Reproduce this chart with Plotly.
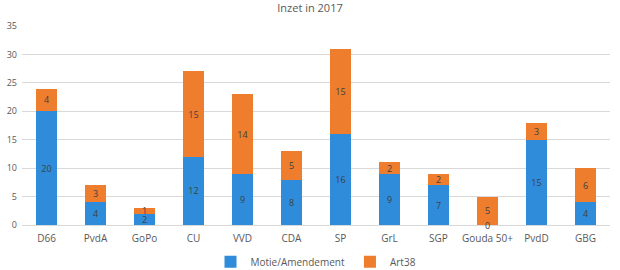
import plotly.graph_objects as go

categories = ["D66", "PvdA", "GoPo", "CU", "VVD", "CDA", "SP", "GrL", "SGP", "Gouda 50+", "PvdD", "GBG"]
motie = [20, 4, 2, 12, 9, 8, 16, 9, 7, 0, 15, 4]
art38 = [4, 3, 1, 15, 14, 5, 15, 2, 2, 5, 3, 6]
y_ticks = [0, 5, 10, 15, 20, 25, 30, 35]

font_family = "Open Sans, Liberation Sans, sans-serif"
label_font = dict(family=font_family, size=9, color="#404040")

fig = go.Figure()
fig.add_trace(go.Bar(
    x=categories, y=motie, name="Motie/Amendement",
    marker=dict(color="#2F8CDA", line=dict(width=0)),
    text=[str(v) for v in motie], textposition="inside", textangle=0,
    insidetextanchor="middle", textfont=label_font,
    constraintext="none",
))
fig.add_trace(go.Bar(
    x=categories, y=art38, name="Art38",
    marker=dict(color="#EE7D2E", line=dict(width=0)),
    text=[str(v) for v in art38], textposition="inside", textangle=0,
    insidetextanchor="middle", textfont=label_font,
    constraintext="none",
))

# zero-valued segments still get their label (as in the reference)
for cat, v in zip(categories, motie):
    if v == 0:
        fig.add_annotation(x=cat, y=v, text=str(v), showarrow=False,
                           yanchor="middle", font=label_font)

fig.update_layout(
    barmode="stack",
    bargap=0.59,
    width=620, height=270,
    margin=dict(l=22, r=10, t=26, b=45, autoexpand=False),
    paper_bgcolor="white", plot_bgcolor="white",
    font=dict(family=font_family, size=10, color="#595959"),
    title=dict(text="Inzet in 2017", x=0.5, xanchor="center", y=0.97, yanchor="middle",
               font=dict(size=11, color="#595959", family=font_family)),
    uniformtext=dict(minsize=8, mode="show"),
    legend=dict(orientation="h", x=0.5, xanchor="center", y=-0.185, yanchor="middle",
                font=dict(size=10, color="#595959"), traceorder="normal"),
    showlegend=True,
)
fig.update_yaxes(range=[0, 35], tickvals=y_ticks, showgrid=True, gridcolor="#D9D9D9",
                 gridwidth=1, zeroline=False, showline=False, ticks="",
                 tickfont=dict(size=9, color="#595959"), ticklabelstandoff=4)
fig.update_xaxes(showline=True, linecolor="#D9D9D9", linewidth=1, ticks="",
                 tickfont=dict(size=10, color="#595959"), ticklabelstandoff=4)

fig.write_html("out.html")
